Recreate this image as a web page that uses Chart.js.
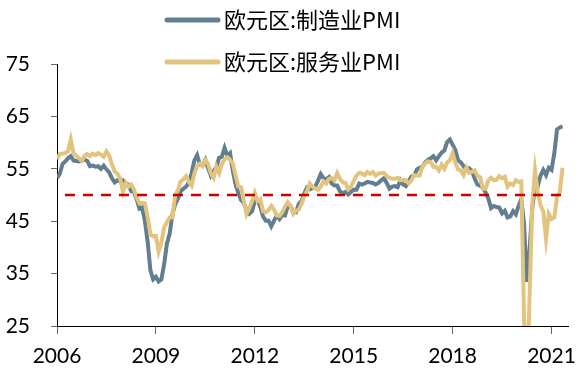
<!DOCTYPE html>
<html>
<head>
<meta charset="utf-8">
<script src="https://cdn.jsdelivr.net/npm/chart.js@4.4.1/dist/chart.umd.min.js"></script>
<style>
  html, body { margin: 0; padding: 0; background: #fff; }
  #wrap { width: 588px; height: 374px; }
</style>
</head>
<body>
<div id="wrap"><canvas id="pmiChart" width="588" height="374"></canvas></div>
<script>
// ── 欧元区 PMI (monthly, Jan 2006 - May 2021) ──
const seriesNames = ['欧元区:制造业PMI', '欧元区:服务业PMI'];
const startYear = 2006;
const yearTicks = [2006, 2009, 2012, 2015, 2018, 2021];
const yTicks = [25, 35, 45, 55, 65, 75];
const threshold = 50;

const mfgPMI = [
  53.2, 54.0, 55.9, 56.4, 57.0, 57.4, 56.6, 56.5, 56.4, 56.6, 56.8, 56.5, // 2006
  55.5, 55.6, 55.4, 55.5, 55.0, 55.6, 54.9, 54.3, 53.2, 52.4, 52.8, 52.6, // 2007
  52.8, 52.3, 52.0, 50.7, 50.6, 49.2, 47.4, 47.6, 45.0, 41.1, 35.6, 33.9, // 2008
  34.4, 33.5, 33.9, 36.8, 40.7, 42.6, 46.3, 48.2, 49.3, 50.7, 51.2, 51.6, // 2009
  52.4, 54.2, 56.6, 57.6, 55.8, 55.6, 56.7, 55.1, 53.7, 54.6, 55.3, 57.1, // 2010
  57.3, 59.0, 57.5, 58.0, 54.6, 52.0, 50.4, 49.0, 48.5, 47.1, 46.4, 46.9, // 2011
  48.8, 49.0, 47.7, 45.9, 45.1, 45.1, 44.0, 45.1, 46.1, 45.4, 46.2, 46.1, // 2012
  47.9, 47.9, 46.8, 46.7, 48.3, 48.8, 50.3, 51.4, 51.1, 51.3, 51.6, 52.7, // 2013
  54.0, 53.2, 53.0, 53.4, 52.2, 51.8, 51.8, 50.7, 50.3, 50.6, 50.1, 50.6, // 2014
  51.0, 51.0, 52.2, 52.0, 52.2, 52.5, 52.4, 52.3, 52.0, 52.3, 52.8, 53.2, // 2015
  52.3, 51.2, 51.6, 51.7, 51.5, 52.8, 52.0, 51.7, 52.6, 53.5, 53.7, 54.9, // 2016
  55.2, 55.4, 56.2, 56.7, 57.0, 57.4, 56.6, 57.4, 58.1, 58.5, 60.1, 60.6, // 2017
  59.6, 58.6, 56.6, 56.2, 55.5, 54.9, 55.1, 54.6, 53.2, 52.0, 51.8, 51.4, // 2018
  50.5, 49.3, 47.5, 47.9, 47.7, 47.6, 46.5, 47.0, 45.7, 45.9, 46.9, 46.3, // 2019
  47.9, 49.2, 44.5, 33.4, 39.4, 47.4, 51.8, 51.7, 53.7, 54.8, 53.8, 55.2, // 2020
  54.8, 57.9, 62.5, 62.9, 63.1                                            // 2021
];

const svcPMI = [
  56.8, 57.8, 57.9, 58.0, 58.3, 60.6, 58.0, 57.5, 57.0, 56.5, 57.4, 57.8, // 2006
  57.4, 57.9, 57.6, 58.0, 57.7, 57.3, 58.3, 57.5, 55.8, 54.5, 54.1, 53.1, // 2007
  50.6, 52.3, 51.6, 52.0, 51.1, 49.5, 48.4, 48.5, 48.4, 45.8, 42.5, 42.1, // 2008
  42.2, 39.2, 40.9, 43.8, 44.8, 45.7, 45.7, 49.9, 50.9, 52.6, 53.0, 53.6, // 2009
  52.5, 51.8, 54.1, 55.6, 56.0, 55.5, 56.7, 55.9, 54.1, 53.3, 55.4, 54.2, // 2010
  55.9, 56.8, 57.2, 56.7, 56.0, 53.7, 51.6, 51.5, 48.8, 46.4, 47.5, 48.8, // 2011
  50.4, 48.8, 49.2, 46.9, 46.7, 47.1, 47.9, 47.2, 46.1, 46.0, 46.7, 47.8, // 2012
  48.6, 47.9, 46.4, 47.0, 47.2, 48.3, 49.8, 50.7, 52.2, 51.6, 51.2, 51.0, // 2013
  51.6, 52.6, 52.2, 53.1, 53.2, 52.8, 54.2, 53.1, 52.4, 52.3, 51.1, 51.6, // 2014
  52.7, 53.7, 54.2, 54.1, 53.8, 54.4, 54.0, 54.4, 53.7, 54.1, 54.2, 54.2, // 2015
  53.6, 53.3, 53.1, 53.1, 53.3, 52.8, 52.9, 52.8, 52.2, 52.8, 53.8, 53.7, // 2016
  53.7, 55.5, 56.0, 56.4, 56.3, 55.4, 55.4, 54.7, 55.8, 55.0, 56.2, 56.6, // 2017
  58.0, 56.2, 54.9, 54.7, 53.8, 55.2, 54.2, 54.4, 54.7, 53.7, 53.4, 51.2, // 2018
  51.2, 52.8, 53.3, 52.8, 52.9, 53.6, 53.2, 53.5, 51.6, 52.2, 51.9, 52.8, // 2019
  52.5, 52.6, 26.4, 12.0, 30.5, 48.3, 54.7, 50.5, 48.0, 46.9, 41.7, 46.4, // 2020
  45.4, 45.7, 49.6, 50.5, 55.2                                            // 2021
];

const toPoints = arr => arr.map((v, i) => ({ x: i, y: v }));
const monthOf = year => (year - startYear) * 12;

// custom two-row legend, like the original
const stackedLegend = {
  id: 'stackedLegend',
  afterDraw(chart) {
    const ctx = chart.ctx;
    const rows = [20, 62];
    ctx.save();
    ctx.font = '22px "Noto Sans CJK SC"';
    ctx.textBaseline = 'middle';
    ctx.textAlign = 'left';
    chart.data.datasets.slice(0, 2).forEach((ds, i) => {
      ctx.strokeStyle = ds.borderColor;
      ctx.lineWidth = 5;
      ctx.lineCap = 'round';
      ctx.beginPath();
      ctx.moveTo(167, rows[i]);
      ctx.lineTo(218, rows[i]);
      ctx.stroke();
      ctx.fillStyle = '#000';
      ctx.fillText(ds.label, 224, rows[i]);
    });
    ctx.restore();
  }
};

const tickFont = { family: 'Lato', size: 21 };

new Chart(document.getElementById('pmiChart'), {
  type: 'line',
  data: {
    datasets: [
      {
        label: seriesNames[0],
        data: toPoints(mfgPMI),
        borderColor: '#627f90',
        borderWidth: 4,
        pointRadius: 0,
        order: 2
      },
      {
        label: seriesNames[1],
        data: toPoints(svcPMI),
        borderColor: '#e2c47e',
        borderWidth: 4,
        pointRadius: 0,
        order: 1
      },
      {
        label: 'threshold',
        data: [{ x: 0, y: threshold }, { x: mfgPMI.length - 1, y: threshold }],
        borderColor: '#cc0000',
        borderWidth: 2.5,
        borderDash: [10, 8],
        borderDashOffset: 10,
        pointRadius: 0,
        order: 0
      }
    ]
  },
  options: {
    responsive: false,
    animation: false,
    devicePixelRatio: 1,
    layout: { padding: { top: 64, right: 20, left: 0, bottom: 0 } },
    plugins: { legend: { display: false }, tooltip: { enabled: false } },
    scales: {
      x: {
        type: 'linear',
        min: 0,
        max: 186,
        afterBuildTicks: s => { s.ticks = yearTicks.map(y => ({ value: monthOf(y) })); },
        afterFit: s => { s.height = 48; },
        ticks: { font: tickFont, color: '#000', padding: 10, maxRotation: 0, callback: v => startYear + v / 12 },
        grid: { drawOnChartArea: false, tickLength: 8, color: '#666' },
        border: { color: '#000', width: 1 }
      },
      y: {
        min: 25,
        max: 75,
        afterBuildTicks: s => { s.ticks = yTicks.map(v => ({ value: v })); },
        afterFit: s => { s.width = 57; },
        ticks: { font: tickFont, color: '#000', padding: 21 },
        grid: { drawOnChartArea: false, tickLength: 6, color: '#666' },
        border: { color: '#000', width: 1 }
      }
    }
  },
  plugins: [stackedLegend]
});
</script>
</body>
</html>
